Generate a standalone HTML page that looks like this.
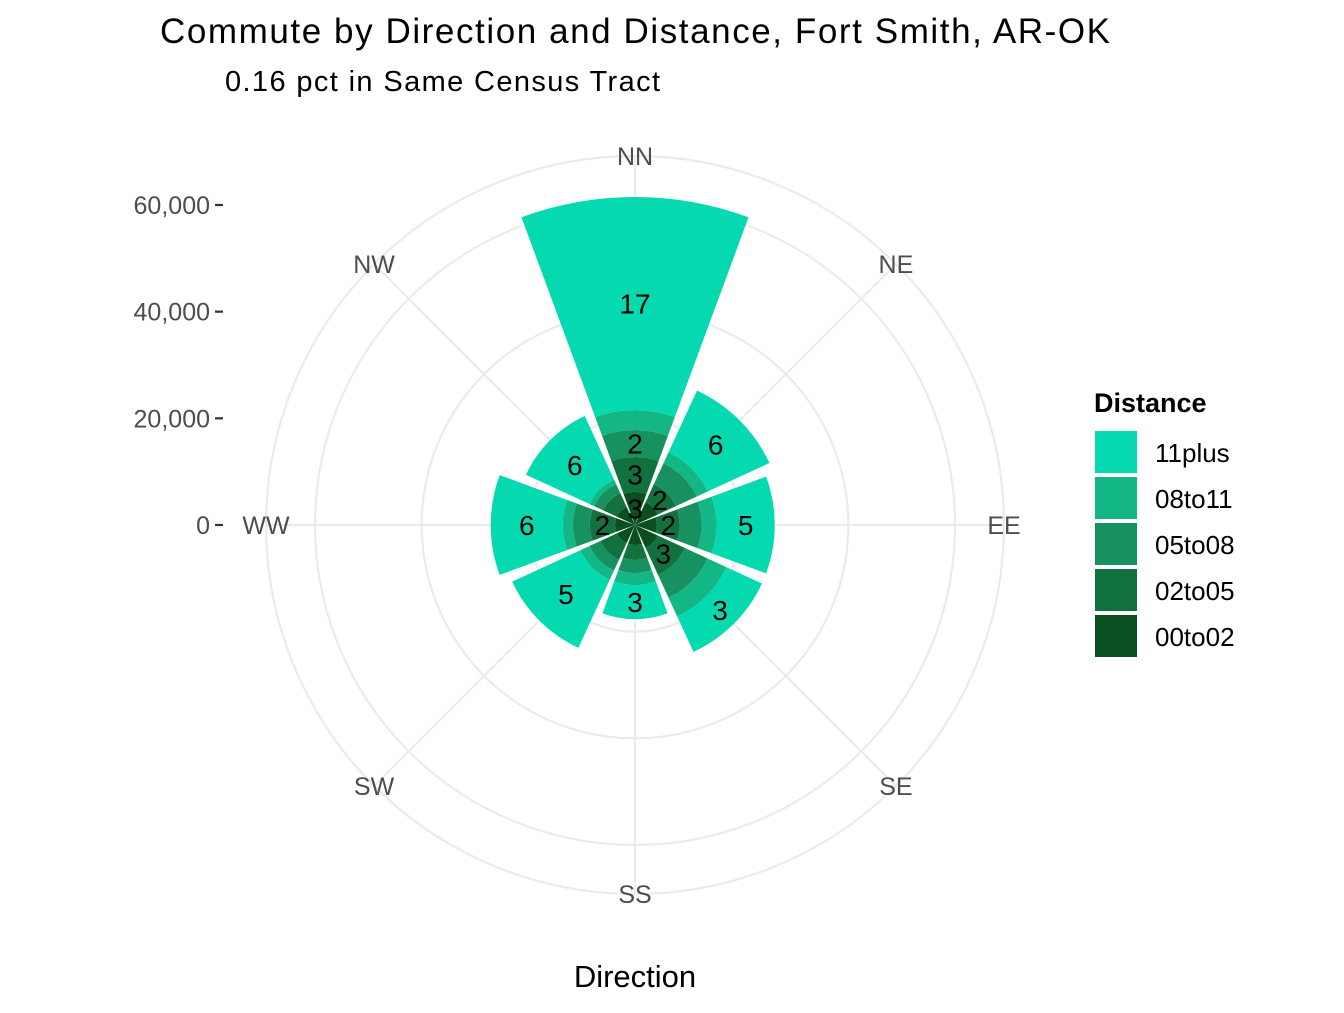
<!DOCTYPE html>
<html><head><meta charset="utf-8"><style>
body{margin:0;background:#fff;}
svg text{font-family:"Liberation Sans",Arial,sans-serif;}
</style></head><body>
<svg id="chart" width="1344" height="1008" viewBox="0 0 1344 1008" xmlns="http://www.w3.org/2000/svg">
<text x="160" y="43" font-size="35" fill="#000" textLength="950">Commute by Direction and Distance, Fort Smith, AR-OK</text>
<text x="225" y="91" font-size="29" fill="#000" textLength="435">0.16 pct in Same Census Tract</text>
<g id="grid"></g>
<g id="bars"></g>
<g id="labels"></g>
<g id="axes"></g>
<text x="635" y="987" font-size="31" text-anchor="middle" fill="#000">Direction</text>
<g id="legend"></g>
</svg>
<script>
const directions = ["NN","NE","EE","SE","SS","SW","WW","NW"];
const distances = ["00to02","02to05","05to08","08to11","11plus"];
const s00to02 = [6200,4700,4100,4700,3750,3750,3750,3750];
const s02to05 = [6550,3750,4300,5600,2800,3400,4700,2800];
const s05to08 = [5060,4300,4100,4700,2450,2250,3200,1900];
const s08to11 = [3750,2250,2800,3900,2250,1900,1900,950];
const s11plus = [39940,12750,10900,7300,6400,14050,13500,13100];
const pctLabels = [
 ["3","3","2","","17"],
 ["","2","","","6"],
 ["","2","","","5"],
 ["","3","","","3"],
 ["","","","","3"],
 ["","","","","5"],
 ["","2","","","6"],
 ["","","","","6"]
];
const yTicks = [0,20000,40000,60000];
const yTickLabels = ["0","20,000","40,000","60,000"];
const colors = ["#0a4f1f","#11723f","#16915f","#13b785","#04d9b0"];

const NS="http://www.w3.org/2000/svg";
const cx=635, cy=525, pxPer=320/60000, outerR=369;
const rScale=v=>v*pxPer;
const ang=i=>i*Math.PI/4;
function pt(a,r){return [cx+r*Math.sin(a), cy-r*Math.cos(a)];}
function mk(tag,attrs,parent){const e=document.createElementNS(NS,tag);for(const k in attrs)e.setAttribute(k,attrs[k]);parent.appendChild(e);return e;}

const grid=document.getElementById('grid');
[20000,40000,60000].forEach(v=>{
  const c=mk('circle',{cx:cx,cy:cy,r:rScale(v),fill:'none',stroke:'#ebebeb','stroke-width':2.2},grid);
  
  
});
const oc=mk('circle',{cx:cx,cy:cy,r:outerR,fill:'none',stroke:'#ebebeb','stroke-width':2.2},grid);


directions.forEach((d,i)=>{
  const p=pt(ang(i),outerR);
  const l=mk('line',{x1:cx,y1:cy,x2:p[0],y2:p[1],stroke:'#ebebeb','stroke-width':2.2},grid);
  
  
});

const series=[s00to02,s02to05,s05to08,s08to11,s11plus];
const bars=document.getElementById('bars'), labels=document.getElementById('labels');
const half=0.45*Math.PI/4;
directions.forEach((d,i)=>{
  let cum=0;
  const a=ang(i);
  series.forEach((s,k)=>{
    const r0=rScale(cum), r1=rScale(cum+s[i]);
    const a0=a-half,a1=a+half;
    const p0=pt(a0,r0),p1=pt(a0,r1),p2=pt(a1,r1),p3=pt(a1,r0);
    const dp=`M${p0[0]},${p0[1]}L${p1[0]},${p1[1]}A${r1},${r1} 0 0 1 ${p2[0]},${p2[1]}L${p3[0]},${p3[1]}`+(r0>0?`A${r0},${r0} 0 0 0 ${p0[0]},${p0[1]}Z`:'Z');
    const path=mk('path',{d:dp,fill:colors[k]},bars);
    
    
    const lab=pctLabels[i][k];
    if(lab){
      const lp=pt(a,(r0+r1)/2);
      const t=mk('text',{x:lp[0],y:lp[1]+10,'font-size':28,'text-anchor':'middle',fill:'#000'},labels);
      t.textContent=lab;
      
      
    }
    cum+=s[i];
  });
});

const axes=document.getElementById('axes');
directions.forEach((d,i)=>{
  const p=pt(ang(i),outerR);
  let y=p[1]+9;
  if(i===0)y=p[1]+9;
  if(i===4)y=p[1]+9;
  const t=mk('text',{x:p[0],y:y,'font-size':25,'text-anchor':'middle',fill:'#4d4d4d'},axes);
  t.textContent=d;
  
  
});
yTicks.forEach((v,j)=>{
  const y=cy-rScale(v);
  const t=mk('text',{x:210,y:y+9,'font-size':25,'text-anchor':'end',fill:'#4d4d4d'},axes);
  t.textContent=yTickLabels[j];
  
  
  const l=mk('line',{x1:215,y1:y,x2:223,y2:y,stroke:'#333','stroke-width':2.2},axes);
  
  
});

const legend=document.getElementById('legend');
const lt=mk('text',{x:1094,y:412,'font-size':27,'font-weight':'bold',fill:'#000'},legend);
lt.textContent='Distance';


const legOrder=[4,3,2,1,0];
legOrder.forEach((k,j)=>{
  const y=431+j*46;
  const r=mk('rect',{x:1095,y:y,width:42,height:42,fill:colors[k]},legend);
  
  
  const t=mk('text',{x:1155,y:y+31,'font-size':26,fill:'#000'},legend);
  t.textContent=distances[k];
  
  
});
</script>
</body></html>
